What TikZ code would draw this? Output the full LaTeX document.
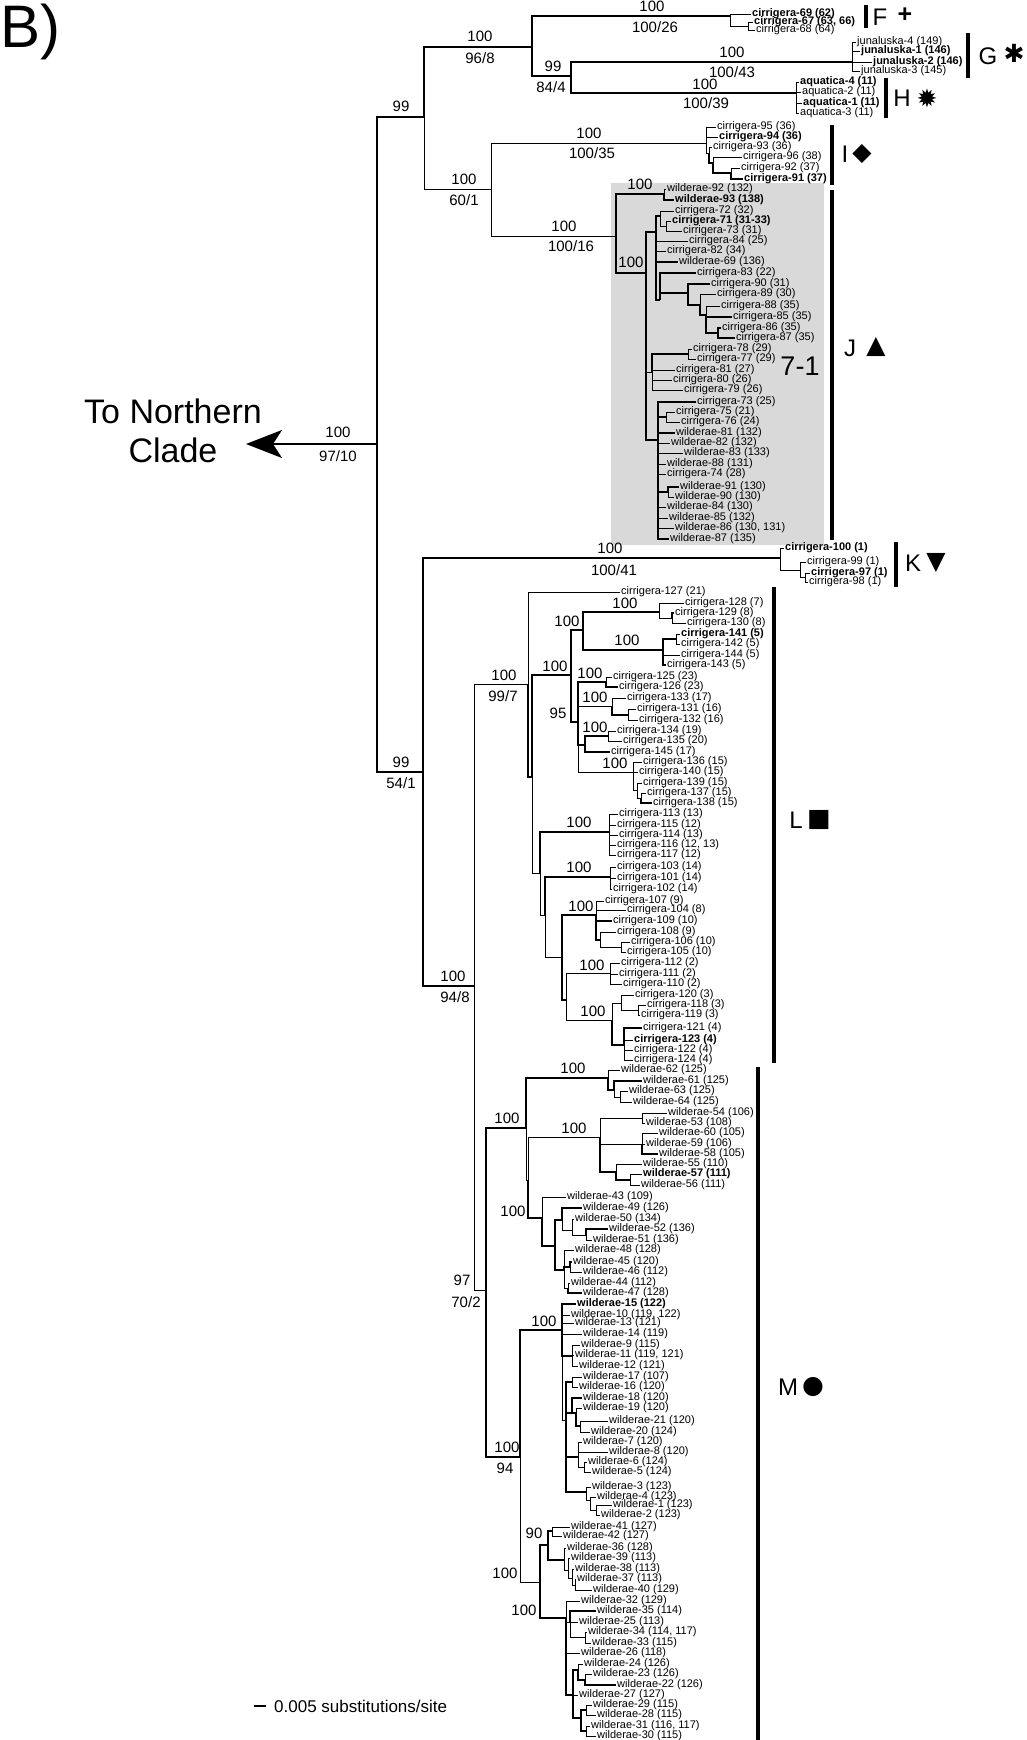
\documentclass[tikz,border=0pt]{standalone}
\usepackage{fontspec}
\setmainfont{Liberation Sans}
\newfontfamily\symf{DejaVu Sans}
\usetikzlibrary{arrows.meta}
\newcommand\Lf[6][tn]{\node[lab] (#2) at (#3,#4) {#5}; \draw[#1] (#6) |- (#2.west);}
\newcommand\Nd[5][tn]{\coordinate (#2) at (#3,#4); \draw[#1] (#5) |- (#2);}
\newcommand\Sv[4]{\node[sv] (#1) at (#2,#3) {#4};}
\begin{document}
\begin{tikzpicture}[x=1pt,y=-1pt,
  tn/.style={line width=0.9pt},
  tm/.style={line width=1.5pt},
  tk/.style={line width=2.4pt},
  bar/.style={line width=3.8pt},
  lab/.style={anchor=west,inner xsep=1pt,inner ysep=0pt,font=\fontsize{11}{11}\selectfont},
  sv/.style={inner sep=0pt,font=\fontsize{15}{15}\selectfont},
  grp/.style={inner sep=0pt,font=\fontsize{24}{24}\selectfont},
  sym/.style={inner sep=0pt,font=\symf\fontsize{25}{25}\selectfont}]
\fill[white] (0,0) rectangle (1026,1740);
\useasboundingbox (0,0) rectangle (1026,1740);
\fill[black!15] (611,183) rectangle (824,545);
\node[anchor=north west,inner sep=0pt,font=\fontsize{60}{60}\selectfont] (lblB) at (0,4) {B)};
% root and arrow
\coordinate (R) at (377,444);
\coordinate (tip) at (246,444);
\draw[tm,-{Stealth[length=36pt,width=28pt,inset=9pt]}] (R) -- (tip);
\node[align=center,inner sep=0pt,font=\fontsize{34}{39}\selectfont] (north) at (173,431) {To Northern\\Clade};
\Sv{sR1}{338}{432}{100} \Sv{sR2}{338}{456}{97/10}
% upper clade
\Nd[tm]{U}{424}{117}{R}
\Sv{sU}{401}{106}{99}
\Nd[tk]{N96}{532}{47}{U}
\Sv{s96a}{480}{36}{100} \Sv{s96b}{480}{58}{96/8}
\Nd[tk]{F0}{730}{16}{N96}
\Sv{sFa}{652}{6}{100} \Sv{sFb}{655}{27}{100/26}
\Lf{c69}{751}{14}{\textbf{cirrigera-69 (62)}}{F0}
\Nd{F1}{748}{26}{F0}
\Lf{c67}{753}{22}{\textbf{cirrigera-67 (63, 66)}}{F1}
\Lf{c68}{755}{30}{cirrigera-68 (64)}{F1}
\Nd[tk]{N84}{571}{76}{N96}
\Sv{s84a}{553}{66}{99} \Sv{s84b}{551}{87}{84/4}
\Nd[tm]{G0}{852}{62}{N84}
\Sv{sGa}{732}{52}{100} \Sv{sGb}{732}{72}{100/43}
\Lf{j4}{856}{42}{junaluska-4 (149)}{G0}
\Lf{j1}{860}{51}{\textbf{junaluska-1 (146)}}{G0}
\Lf{j2}{872}{62}{\textbf{junaluska-2 (146)}}{G0}
\Lf{j3}{860}{71}{junaluska-3 (145)}{G0}
\Nd[tk]{H0}{796}{93}{N84}
\Sv{sHa}{705}{84}{100} \Sv{sHb}{706}{103}{100/39}
\Lf{a4}{799}{82}{\textbf{aquatica-4 (11)}}{H0}
\Lf{a2}{801}{92}{aquatica-2 (11)}{H0}
\Lf{a1}{802}{103}{\textbf{aquatica-1 (11)}}{H0}
\Lf{a3}{799}{113}{aquatica-3 (11)}{H0}
% I
\Nd{N60}{491}{189}{U}
\Sv{s60a}{464}{179}{100} \Sv{s60b}{464}{200}{60/1}
\Nd{I0}{706}{143}{N60}
\Sv{sIa}{589}{133}{100} \Sv{sIb}{592}{153}{100/35}
\Lf{c95}{716}{127}{cirrigera-95 (36)}{I0}
\Lf{c94}{718}{137}{\textbf{cirrigera-94 (36)}}{I0}
\Nd{I1}{709}{153}{I0}
\Lf{c93}{712}{147}{cirrigera-93 (36)}{I1}
\Nd[tk]{I2}{713}{163}{I1}
\Lf{c96}{742}{157}{cirrigera-96 (38)}{I2}
\Nd[tk]{I3}{731}{173}{I2}
\Lf{c92}{740}{168}{cirrigera-92 (37)}{I3}
\Lf[tk]{c91}{743}{179}{\textbf{cirrigera-91 (37)}}{I3}
% J
\Nd{J0}{616}{236}{N60}
\Sv{sJa}{564}{226}{100} \Sv{sJb}{571}{246}{100/16}
\Nd[tk]{JA}{664}{194}{J0}
\Sv{sJA}{640}{184}{100}
\Lf{w92}{666}{189}{wilderae-92 (132)}{JA}
\Lf[tk]{w93}{674}{200}{\textbf{wilderae-93 (138)}}{JA}
\Nd[tk]{JB}{646}{273}{J0}
\Sv{sJB}{631}{262}{100}
\Nd[tm]{JC}{656}{232}{JB}
\Nd[tk]{JC1}{660}{216}{JC}
\Lf{c72}{674}{211}{cirrigera-72 (32)}{JC1}
\Nd{JC2}{666}{226}{JC1}
\Lf{c71}{671}{221}{\textbf{cirrigera-71 (31-33)}}{JC2}
\Lf{c73}{682}{231}{cirrigera-73 (31)}{JC2}
\Lf{c84}{688}{241}{cirrigera-84 (25)}{JC}
\Lf{c82}{666}{251}{cirrigera-82 (34)}{JC}
\Lf[tk]{w69}{678}{262}{wilderae-69 (136)}{JC}
\Nd[tm]{JD}{660}{300}{JC}
\Lf[tk]{c83}{696}{273}{cirrigera-83 (22)}{JD}
\Nd[tk]{J90}{688}{293}{JD}
\Lf[tk]{c90}{710}{284}{cirrigera-90 (31)}{J90}
\Nd[tk]{J89}{700}{305}{J90}
\Lf{c89}{716}{294}{cirrigera-89 (30)}{J89}
\Nd[tk]{J88}{706}{315}{J89}
\Lf{c88}{720}{306}{cirrigera-88 (35)}{J88}
\Lf[tk]{c85}{732}{317}{cirrigera-85 (35)}{J88}
\Nd[tk]{J86}{718}{333}{J88}
\Lf[tk]{c86}{721}{328}{cirrigera-86 (35)}{J86}
\Lf[tk]{c87}{735}{338}{cirrigera-87 (35)}{J86}
\Nd{JF}{652}{372}{JB}
\Nd[tk]{J78}{688}{354}{JF}
\Lf{c78}{692}{349}{cirrigera-78 (29)}{J78}
\Lf{c77}{696}{359}{cirrigera-77 (29)}{J78}
\Lf{c81}{675}{370}{cirrigera-81 (27)}{JF}
\Lf{c80}{672}{380}{cirrigera-80 (26)}{JF}
\Lf{c79}{683}{390}{cirrigera-79 (26)}{JF}
\Nd[tm]{JE}{658}{440}{JB}
\Lf[tk]{c73b}{696}{402}{cirrigera-73 (25)}{JE}
\Nd[tk]{J75}{666}{417}{JE}
\Lf{c75}{675}{412}{cirrigera-75 (21)}{J75}
\Lf{c76}{680}{422}{cirrigera-76 (24)}{J75}
\Lf[tk]{w81}{675}{433}{wilderae-81 (132)}{JE}
\Lf{w82}{670}{443}{wilderae-82 (132)}{JE}
\Lf{w83}{683}{453}{wilderae-83 (133)}{JE}
\Lf{w88}{666}{464}{wilderae-88 (131)}{JE}
\Lf{c74}{666}{474}{cirrigera-74 (28)}{JE}
\Nd[tk]{J91}{668}{492}{JE}
\Lf[tk]{w91}{679}{487}{wilderae-91 (130)}{J91}
\Lf{w90}{674}{497}{wilderae-90 (130)}{J91}
\Lf{w84}{666}{507}{wilderae-84 (130)}{JE}
\Lf{w85}{668}{518}{wilderae-85 (132)}{JE}
\Lf{w86}{674}{528}{wilderae-86 (130, 131)}{JE}
\Lf[tk]{w87}{669}{539}{wilderae-87 (135)}{JE}
\node[inner sep=0pt,font=\fontsize{27}{27}\selectfont] (t71) at (800,366) {7-1};
% K
\Nd[tm]{N54}{423}{772}{R}
\Sv{s54a}{401}{762}{99} \Sv{s54b}{401}{783}{54/1}
\Nd[tk]{K0}{780}{558}{N54}
\Sv{sKa}{610}{548}{100} \Sv{sKb}{614}{570}{100/41}
\Lf{c100}{784}{548}{\textbf{cirrigera-100 (1)}}{K0}
\Nd{K1}{800}{570}{K0}
\Lf{c99}{806}{562}{cirrigera-99 (1)}{K1}
\Nd{K2}{805}{577}{K1}
\Lf{c97}{810}{573}{\textbf{cirrigera-97 (1)}}{K2}
\Lf{c98}{808}{582}{cirrigera-98 (1)}{K2}
% L
\Nd[tk]{N94}{474}{986}{N54}
\Sv{s94a}{453}{976}{100} \Sv{s94b}{455}{997}{94/8}
\Nd{L0}{528}{684}{N94}
\Sv{sL0a}{504}{675}{100} \Sv{sL0b}{503}{696}{99/7}
\Lf{c127}{620}{592}{cirrigera-127 (21)}{L0}
\Nd[tk]{LA}{532}{777}{L0}
\Nd[tk]{LB}{571}{675}{LA}
\Sv{sLB}{555}{666}{100}
\Nd[tk]{LB1}{583}{630}{LB}
\Sv{sLB1}{567}{621}{100}
\Nd[tk]{L128}{659}{612}{LB1}
\Sv{sL128}{625}{603}{100}
\Lf{c128}{684}{603}{cirrigera-128 (7)}{L128}
\Nd{L129}{672}{618}{L128}
\Lf[tk]{c129}{674}{613}{cirrigera-129 (8)}{L129}
\Lf{c130}{686}{623}{cirrigera-130 (8)}{L129}
\Nd[tk]{L141}{663}{650}{LB1}
\Sv{sL141}{627}{640}{100}
\Nd[tk]{L141a}{676}{639}{L141}
\Lf{c141}{680}{634}{\textbf{cirrigera-141 (5)}}{L141a}
\Lf{c142}{680}{644}{cirrigera-142 (5)}{L141a}
\Lf{c144}{680}{655}{cirrigera-144 (5)}{L141}
\Lf[tk]{c143}{666}{665}{cirrigera-143 (5)}{L141}
\Nd[tk]{LB2}{578}{722}{LB}
\Sv{sLB2}{558}{713}{95}
\Nd[tk]{L125}{606}{682}{LB2}
\Sv{sL125}{590}{673}{100}
\Lf{c125}{612}{677}{cirrigera-125 (23)}{L125}
\Lf[tk]{c126}{618}{687}{cirrigera-126 (23)}{L125}
\Nd{L133}{612}{706}{LB2}
\Sv{sL133}{595}{697}{100}
\Lf{c133}{626}{698}{cirrigera-133 (17)}{L133}
\Nd[tk]{L131}{628}{715}{L133}
\Lf{c131}{636}{709}{cirrigera-131 (16)}{L131}
\Lf{c132}{638}{720}{cirrigera-132 (16)}{L131}
\Nd[tk]{L134p}{585}{745}{LB2}
\Nd[tk]{L134}{608}{736}{L134p}
\Sv{sL134}{595}{727}{100}
\Lf{c134}{616}{731}{cirrigera-134 (19)}{L134}
\Lf{c135}{622}{741}{cirrigera-135 (20)}{L134}
\Lf[tk]{c145}{610}{752}{cirrigera-145 (17)}{L134p}
\Nd{L136}{633}{772}{LB2}
\Sv{sL136}{615}{763}{100}
\Lf{c136}{642}{762}{cirrigera-136 (15)}{L136}
\Lf{c140}{638}{772}{cirrigera-140 (15)}{L136}
\Nd{L139}{637}{790}{L136}
\Lf{c139}{642}{783}{cirrigera-139 (15)}{L139}
\Nd{L137}{641}{798}{L139}
\Lf{c137}{646}{793}{cirrigera-137 (15)}{L137}
\Lf[tk]{c138}{652}{803}{cirrigera-138 (15)}{L137}
\Nd{LC}{540}{873}{LA}
\Nd[tk]{L113}{609}{832}{LC}
\Sv{sL113}{579}{822}{100}
\Lf{c113}{618}{814}{cirrigera-113 (13)}{L113}
\Lf{c115}{616}{825}{cirrigera-115 (12)}{L113}
\Lf{c114}{618}{835}{cirrigera-114 (13)}{L113}
\Lf{c116}{616}{845}{cirrigera-116 (12, 13)}{L113}
\Lf{c117}{616}{855}{cirrigera-117 (12)}{L113}
\Nd{LD}{545}{915}{LC}
\Nd[tk]{L103}{610}{877}{LD}
\Sv{sL103}{579}{867}{100}
\Lf{c103}{616}{867}{cirrigera-103 (14)}{L103}
\Lf{c101}{616}{878}{cirrigera-101 (14)}{L103}
\Lf{c102}{612}{889}{cirrigera-102 (14)}{L103}
\Nd{LE}{562}{957}{LD}
\Nd[tk]{L107}{596}{915}{LE}
\Sv{sL107}{581}{906}{100}
\Lf{c107}{604}{901}{cirrigera-107 (9)}{L107}
\Lf{c104}{626}{910}{cirrigera-104 (8)}{L107}
\Lf[tk]{c109}{612}{921}{cirrigera-109 (10)}{L107}
\Nd[tk]{L108}{600}{940}{L107}
\Lf{c108}{616}{932}{cirrigera-108 (9)}{L108}
\Nd{L106}{621}{947}{L108}
\Lf{c106}{630}{942}{cirrigera-106 (10)}{L106}
\Lf{c105}{626}{952}{cirrigera-105 (10)}{L106}
\Nd[tk]{LF}{566}{1000}{LE}
\Nd{L112}{610}{973}{LF}
\Sv{sL112}{592}{965}{100}
\Lf{c112}{620}{963}{cirrigera-112 (2)}{L112}
\Lf{c111}{618}{974}{cirrigera-111 (2)}{L112}
\Lf{c110}{622}{984}{cirrigera-110 (2)}{L112}
\Nd{L120}{612}{1020}{LF}
\Sv{sL120}{593}{1011}{100}
\Nd{L120a}{621}{1003}{L120}
\Lf{c120}{634}{995}{cirrigera-120 (3)}{L120a}
\Nd{L118}{638}{1010}{L120a}
\Lf{c118}{646}{1005}{cirrigera-118 (3)}{L118}
\Lf{c119}{640}{1015}{cirrigera-119 (3)}{L118}
\Nd[tk]{L121}{624}{1045}{L120}
\Lf[tk]{c121}{642}{1028}{cirrigera-121 (4)}{L121}
\Lf{c123}{633}{1040}{\textbf{cirrigera-123 (4)}}{L121}
\Lf{c122}{633}{1050}{cirrigera-122 (4)}{L121}
\Lf{c124}{633}{1060}{cirrigera-124 (4)}{L121}
% M
\Nd{N70}{486}{1290}{N94}
\Sv{s70a}{462}{1280}{97} \Sv{s70b}{466}{1302}{70/2}
\Nd[tk]{M100a}{526}{1128}{N70}
\Sv{sM100a}{507}{1118}{100}
\Nd[tk]{M62}{608}{1078}{M100a}
\Sv{sM62}{573}{1068}{100}
\Lf{w62}{620}{1070}{wilderae-62 (125)}{M62}
\Nd[tk]{M61}{614}{1090}{M62}
\Lf[tk]{w61}{642}{1081}{wilderae-61 (125)}{M61}
\Nd{M63}{620}{1097}{M61}
\Lf{w63}{628}{1091}{wilderae-63 (125)}{M63}
\Lf{w64}{632}{1102}{wilderae-64 (125)}{M63}
\Nd{M100b}{528}{1180}{M100a}
\Nd{M54}{600}{1137}{M100b}
\Sv{sM54}{574}{1128}{100}
\Nd{M54a}{642}{1118}{M54}
\Lf{w54}{667}{1113}{wilderae-54 (106)}{M54a}
\Lf{w53}{645}{1123}{wilderae-53 (108)}{M54a}
\Nd{M60}{642}{1144}{M54}
\Lf{w60}{658}{1133}{wilderae-60 (105)}{M60}
\Lf{w59}{645}{1144}{wilderae-59 (106)}{M60}
\Lf[tk]{w58}{658}{1154}{wilderae-58 (105)}{M60}
\Nd[tk]{M55}{616}{1172}{M54}
\Lf{w55}{642}{1164}{wilderae-55 (110)}{M55}
\Nd[tk]{M57}{630}{1180}{M55}
\Lf{w57}{642}{1174}{\textbf{wilderae-57 (111)}}{M57}
\Lf{w56}{640}{1185}{wilderae-56 (111)}{M57}
\Nd[tk]{M43}{542}{1218}{M100b}
\Sv{sM43}{513}{1211}{100}
\Lf{w43}{566}{1197}{wilderae-43 (109)}{M43}
\Nd[tk]{M49}{555}{1246}{M43}
\Nd[tk]{M49a}{562}{1220}{M49}
\Lf[tk]{w49}{582}{1208}{wilderae-49 (126)}{M49a}
\Nd{M50}{572}{1230}{M49a}
\Lf{w50}{574}{1219}{wilderae-50 (134)}{M50}
\Nd{M52}{586}{1235}{M50}
\Lf[tk]{w52}{608}{1229}{wilderae-52 (136)}{M52}
\Lf{w51}{592}{1240}{wilderae-51 (136)}{M52}
\Nd[tk]{M48}{564}{1270}{M49}
\Lf{w48}{574}{1250}{wilderae-48 (128)}{M48}
\Nd[tk]{M45}{570}{1267}{M48}
\Lf[tk]{w45}{572}{1262}{wilderae-45 (120)}{M45}
\Lf{w46}{582}{1272}{wilderae-46 (112)}{M45}
\Nd{M44}{568}{1288}{M48}
\Lf{w44}{570}{1283}{wilderae-44 (112)}{M44}
\Lf[tk]{w47}{582}{1293}{wilderae-47 (128)}{M44}
\Nd[tk]{M94}{520}{1457}{N70}
\Sv{sM94a}{507}{1447}{100} \Sv{sM94b}{505}{1468}{94}
\Nd[tk]{M15}{562}{1330}{M94}
\Sv{sM15}{544}{1321}{100}
\Lf[tk]{w15}{576}{1304}{\textbf{wilderae-15 (122)}}{M15}
\Lf{w10}{570}{1315}{wilderae-10 (119, 122)}{M15}
\Lf{w13}{574}{1323}{wilderae-13 (121)}{M15}
\Lf{w14}{582}{1334}{wilderae-14 (119)}{M15}
\Nd[tk]{M9}{572}{1356}{M15}
\Lf{w9}{580}{1345}{wilderae-9 (115)}{M9}
\Lf{w11}{574}{1355}{wilderae-11 (119, 121)}{M9}
\Lf{w12}{578}{1366}{wilderae-12 (121)}{M9}
\Nd{MX}{566}{1420}{M15}
\Nd[tk]{M17}{572}{1382}{MX}
\Lf{w17}{582}{1377}{wilderae-17 (107)}{M17}
\Lf{w16}{578}{1387}{wilderae-16 (120)}{M17}
\Nd[tk]{M18}{572}{1413}{MX}
\Lf[tk]{w18}{582}{1398}{wilderae-18 (120)}{M18}
\Nd[tk]{M19}{576}{1413}{M18}
\Lf{w19}{582}{1408}{wilderae-19 (120)}{M19}
\Nd[tk]{M21}{580}{1426}{M19}
\Lf{w21}{608}{1421}{wilderae-21 (120)}{M21}
\Lf{w20}{590}{1432}{wilderae-20 (124)}{M21}
\Nd[tk]{M7}{578}{1457}{MX}
\Lf{w7}{582}{1442}{wilderae-7 (120)}{M7}
\Lf{w8}{608}{1452}{wilderae-8 (120)}{M7}
\Nd{M6}{584}{1467}{M7}
\Lf{w6}{587}{1462}{wilderae-6 (124)}{M6}
\Lf{w5}{591}{1472}{wilderae-5 (124)}{M6}
\Nd[tk]{M3}{586}{1492}{MX}
\Lf{w3}{591}{1487}{wilderae-3 (123)}{M3}
\Nd{M4}{590}{1500}{M3}
\Lf{w4}{596}{1497}{wilderae-4 (123)}{M4}
\Nd{M1}{596}{1510}{M4}
\Lf{w1}{612}{1505}{wilderae-1 (123)}{M1}
\Lf{w2}{600}{1515}{wilderae-2 (123)}{M1}
\Nd{M90b}{540}{1582}{M94}
\Sv{sM90b}{505}{1573}{100}
\Nd[tk]{M90}{548}{1545}{M90b}
\Sv{sM90}{534}{1533}{90}
\Nd[tk]{M41}{552}{1531}{M90}
\Lf{w41}{570}{1527}{wilderae-41 (127)}{M41}
\Lf{w42}{562}{1536}{wilderae-42 (127)}{M41}
\Nd[tk]{M36}{564}{1560}{M90}
\Lf{w36}{566}{1548}{wilderae-36 (128)}{M36}
\Nd{M39}{568}{1570}{M36}
\Lf{w39}{570}{1558}{wilderae-39 (113)}{M39}
\Nd{M38}{572}{1578}{M39}
\Lf{w38}{574}{1569}{wilderae-38 (113)}{M38}
\Nd{M37}{575}{1585}{M38}
\Lf{w37}{576}{1579}{wilderae-37 (113)}{M37}
\Lf{w40}{592}{1590}{wilderae-40 (129)}{M37}
\Nd[tk]{M32}{566}{1618}{M90b}
\Sv{sM32}{524}{1610}{100}
\Lf{w32}{580}{1601}{wilderae-32 (129)}{M32}
\Nd{M35}{570}{1622}{M32}
\Lf[tk]{w35}{596}{1611}{wilderae-35 (114)}{M35}
\Lf{w25}{578}{1622}{wilderae-25 (113)}{M35}
\Nd{M34}{585}{1637}{M35}
\Lf{w34}{587}{1632}{wilderae-34 (114, 117)}{M34}
\Lf{w33}{591}{1643}{wilderae-33 (115)}{M34}
\Lf{w26}{580}{1653}{wilderae-26 (118)}{M32}
\Nd[tk]{M24}{573}{1695}{M32}
\Nd[tk]{M24a}{578}{1670}{M24}
\Lf{w24}{583}{1664}{wilderae-24 (126)}{M24a}
\Nd[tk]{M23}{585}{1680}{M24a}
\Lf{w23}{592}{1674}{wilderae-23 (126)}{M23}
\Lf[tk]{w22}{616}{1685}{wilderae-22 (126)}{M23}
\Lf{w27}{578}{1695}{wilderae-27 (127)}{M24}
\Nd[tk]{M29}{581}{1718}{M24}
\Nd[tk]{M29a}{586}{1710}{M29}
\Lf{w29}{592}{1705}{wilderae-29 (115)}{M29a}
\Lf{w28}{596}{1715}{wilderae-28 (115)}{M29a}
\Nd[tk]{M31}{586}{1731}{M29}
\Lf{w31}{590}{1726}{wilderae-31 (116, 117)}{M31}
\Lf{w30}{596}{1736}{wilderae-30 (115)}{M31}
% group bars and marks
\draw[bar] (866,5) -- (866,28);
\node[grp] (gF) at (880,17) {F}; \node[grp,font=\bfseries\fontsize{25}{25}\selectfont] (sF) at (905,15) {+};
\draw[bar] (968,33) -- (968,78);
\node[grp] (gG) at (988,56) {G}; \node[sym] (sG) at (1014,53) {✱};
\draw[bar] (886,78) -- (886,118);
\node[grp] (gH) at (902,98) {H}; \node[sym] (sH) at (927,98) {✹};
\draw[bar] (832,125) -- (832,185);
\node[grp] (gI) at (845,154) {I}; \node[sym] (sI) at (862,154) {◆};
\draw[bar] (832,190) -- (832,540);
\node[grp] (gJ) at (850,348) {J}; \node[sym] (sJ) at (876,347) {▲};
\draw[bar] (896,542) -- (896,587);
\node[grp] (gK) at (913,563) {K}; \node[sym] (sK) at (936,563) {▼};
\draw[bar] (774,587) -- (774,1063);
\node[grp] (gL) at (796,820) {L}; \node[sym] (sL) at (819,820) {■};
\draw[bar] (758,1067) -- (758,1742);
\node[grp] (gM) at (788,1387) {M}; \node[sym] (sM) at (813,1387) {●};
% scale bar
\coordinate (sb1) at (254,1706);
\coordinate (sb2) at (266,1706);
\draw[tm] (sb1) -- (sb2);
\node[anchor=west,inner sep=0pt,font=\fontsize{17}{17}\selectfont] (sbt) at (274,1706) {0.005 substitutions/site};
\end{tikzpicture}
\end{document}
